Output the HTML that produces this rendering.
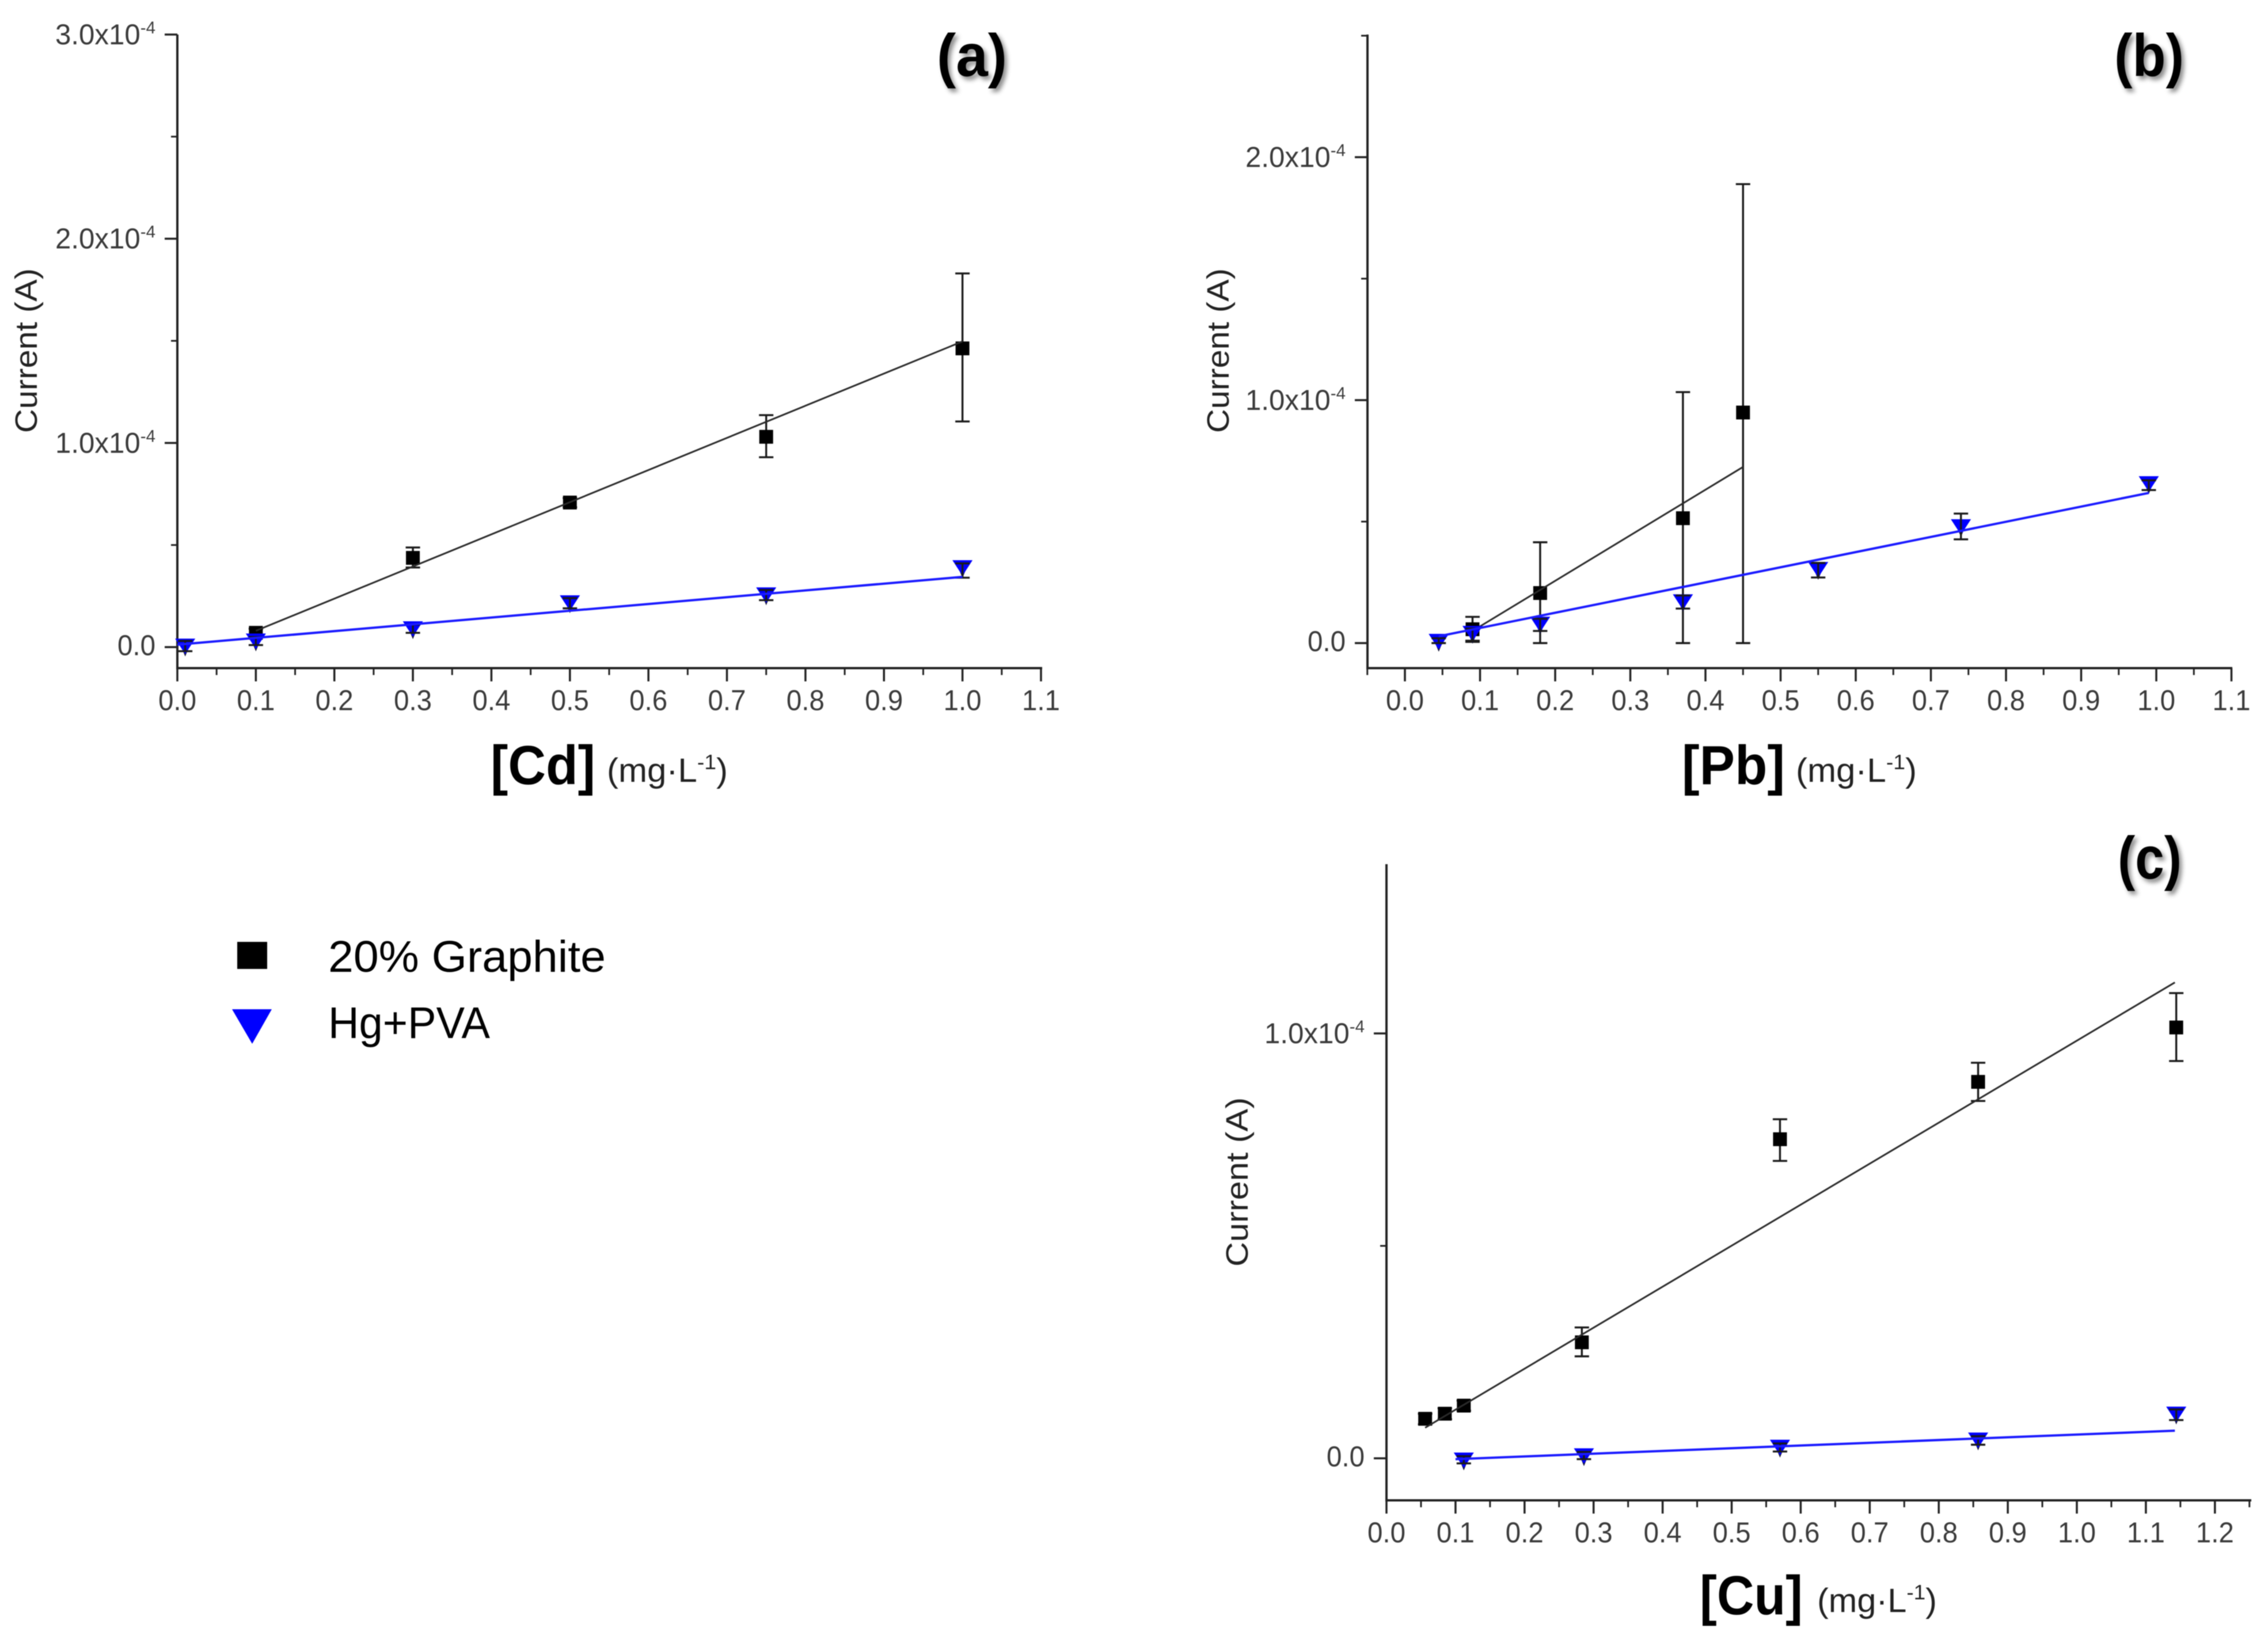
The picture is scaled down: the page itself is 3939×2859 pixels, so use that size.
<!DOCTYPE html>
<html lang="en">
<head>
<meta charset="utf-8">
<title>Calibration curves for Cd, Pb and Cu</title>
<style>
  html, body { margin: 0; padding: 0; background: #ffffff; }
  body { width: 3939px; height: 2859px; overflow: hidden; }
  svg { display: block; font-family: "Liberation Sans", Arial, sans-serif; filter: blur(0.8px); }
  .panel-letter { font-weight: 700; font-size: 104px; fill: #000; filter: drop-shadow(5px 6px 4px rgba(0,0,0,.45)); }
  .y-title { font-size: 54px; fill: #222; }
  .x-title { font-size: 96px; font-weight: 700; fill: #000; }
  .x-unit { font-size: 58px; fill: #222; }
  .legend-text { font-size: 77px; fill: #000; }
</style>
</head>
<body>
<svg id="fig" xmlns="http://www.w3.org/2000/svg" width="3939" height="2859" viewBox="0 0 3939 2859">
  <rect x="0" y="0" width="3939" height="2859" fill="#ffffff"/>

  <g id="panel-a"></g>
  <g id="panel-b"></g>
  <g id="panel-c"></g>

  <text class="panel-letter" x="1627" y="132" textLength="122" lengthAdjust="spacingAndGlyphs">(a)</text>
  <text class="panel-letter" x="3672" y="132" textLength="121" lengthAdjust="spacingAndGlyphs">(b)</text>
  <text class="panel-letter" x="3678" y="1526" textLength="111" lengthAdjust="spacingAndGlyphs">(c)</text>

  <text class="y-title" transform="translate(64,752) rotate(-90)" textLength="286" lengthAdjust="spacingAndGlyphs">Current (A)</text>
  <text class="y-title" transform="translate(2134,752) rotate(-90)" textLength="286" lengthAdjust="spacingAndGlyphs">Current (A)</text>
  <text class="y-title" transform="translate(2167,2200) rotate(-90)" textLength="294" lengthAdjust="spacingAndGlyphs">Current (A)</text>

  <text class="x-title" x="852" y="1362" textLength="182" lengthAdjust="spacingAndGlyphs">[Cd]</text>
  <text class="x-unit" x="1054" y="1358" textLength="210" lengthAdjust="spacingAndGlyphs">(mg·L<tspan dy="-22" font-size="36">-1</tspan><tspan dy="22">)</tspan></text>

  <text class="x-title" x="2921" y="1362" textLength="179" lengthAdjust="spacingAndGlyphs">[Pb]</text>
  <text class="x-unit" x="3119" y="1358" textLength="210" lengthAdjust="spacingAndGlyphs">(mg·L<tspan dy="-22" font-size="36">-1</tspan><tspan dy="22">)</tspan></text>

  <text class="x-title" x="2952" y="2804" textLength="179" lengthAdjust="spacingAndGlyphs">[Cu]</text>
  <text class="x-unit" x="3156" y="2800" textLength="208" lengthAdjust="spacingAndGlyphs">(mg·L<tspan dy="-22" font-size="36">-1</tspan><tspan dy="22">)</tspan></text>

  <g>
    <rect x="412" y="1636" width="52" height="47" fill="#000"/>
    <text class="legend-text" x="570" y="1688" textLength="482" lengthAdjust="spacingAndGlyphs">20% Graphite</text>
    <polygon points="403,1753 472,1753 438,1813" fill="#0000ff"/>
    <text class="legend-text" x="570" y="1803" textLength="281" lengthAdjust="spacingAndGlyphs">Hg+PVA</text>
  </g>
</svg>

<script>
// ---------- data, current in units of 1e-4 A ----------
const cdXLabels = ['0.0','0.1','0.2','0.3','0.4','0.5','0.6','0.7','0.8','0.9','1.0','1.1'];
const cdXMinor = [0.05,0.15,0.25,0.35,0.45,0.55,0.65,0.75,0.85,0.95,1.05];
const cdYMajor = [0,1,2,3];
const cdYMinor = [0.5,1.5,2.5];
const cdGraphiteX = [0.1,0.3,0.5,0.75,1.0];
const cdGraphiteY = [0.07,0.437,0.708,1.03,1.463];
const cdGraphiteHi = [0.09,0.488,0.73,1.136,1.83];
const cdGraphiteLo = [0.05,0.39,0.685,0.93,1.105];
const cdGraphiteFitX = [0.1,1.0];
const cdGraphiteFitY = [0.08,1.497];
const cdHgX = [0.01,0.1,0.3,0.5,0.75,1.0];
const cdHgY = [0.005,0.03,0.09,0.217,0.256,0.389];
const cdHgHi = [0.03,0.05,0.11,0.24,0.28,0.41];
const cdHgLo = [-0.02,0.01,0.07,0.19,0.23,0.34];
const cdHgFitX = [0.0,1.0];
const cdHgFitY = [0.012,0.344];

const pbXLabels = ['0.0','0.1','0.2','0.3','0.4','0.5','0.6','0.7','0.8','0.9','1.0','1.1'];
const pbXMinor = [-0.05,0.05,0.15,0.25,0.35,0.45,0.55,0.65,0.75,0.85,0.95,1.05];
const pbYMajor = [0,1,2];
const pbYMinor = [0.5,1.5,2.5];
const pbGraphiteX = [0.09,0.18,0.37,0.45];
const pbGraphiteY = [0.057,0.206,0.514,0.949];
const pbGraphiteHi = [0.108,0.415,1.033,1.889];
const pbGraphiteLo = [0.005,0,0,0];
const pbGraphiteFitX = [0.09,0.45];
const pbGraphiteFitY = [0.05,0.725];
const pbHgX = [0.045,0.09,0.18,0.37,0.55,0.74,0.99];
const pbHgY = [0.007,0.04,0.078,0.17,0.303,0.479,0.656];
const pbHgHi = [0.02,0.06,0.1,0.196,0.33,0.533,0.67];
const pbHgLo = [0,0.01,0.05,0.142,0.27,0.427,0.63];
const pbHgFitX = [0.045,0.99];
const pbHgFitY = [0.028,0.618];

const cuXLabels = ['0.0','0.1','0.2','0.3','0.4','0.5','0.6','0.7','0.8','0.9','1.0','1.1','1.2'];
const cuXMinor = [0.05,0.15,0.25,0.35,0.45,0.55,0.65,0.75,0.85,0.95,1.05,1.15,1.25];
const cuYMajor = [0,1];
const cuYMinor = [0.5];
const cuGraphiteX = [0.056,0.0845,0.112,0.283,0.57,0.857,1.144];
const cuGraphiteY = [0.093,0.105,0.124,0.273,0.751,0.886,1.014];
const cuGraphiteHi = [0.105,0.118,0.136,0.308,0.798,0.931,1.095];
const cuGraphiteLo = [0.08,0.092,0.112,0.24,0.70,0.841,0.935];
const cuGraphiteFitX = [0.056,1.142];
const cuGraphiteFitY = [0.072,1.12];
const cuHgX = [0.112,0.286,0.57,0.857,1.144];
const cuHgY = [-0.004,0.006,0.026,0.043,0.104];
const cuHgHi = [0.005,0.015,0.035,0.052,0.115];
const cuHgLo = [-0.012,-0.002,0.016,0.032,0.09];
const cuHgFitX = [0.1,1.142];
const cuHgFitY = [-0.002,0.065];

// ---------- axis geometry ----------
const layoutA = { x0: 308, xk: 1363.6, y0: 1124, yk: 354.67, left: 308, right: 1808, top: 60, bottom: 1160.5 };
const layoutB = { x0: 2440, xk: 1305, y0: 1117, yk: 422, left: 2375, right: 3875, top: 60, bottom: 1160.5 };
const layoutC = { x0: 2408, xk: 1199, y0: 2533, yk: 738, left: 2408, right: 3908, top: 1501, bottom: 2606 };

const NS = 'http://www.w3.org/2000/svg';
const AXIS_COLOR = '#222222';
const LABEL_COLOR = '#3a3a3a';

function make(parent, tag, attrs) {
  const node = document.createElementNS(NS, tag);
  for (const k in attrs) node.setAttribute(k, attrs[k]);
  parent.appendChild(node);
  return node;
}

function drawAxes(g, L, key, xLabels, xMinor, yMajor, yMinor) {
  const xs = v => L.x0 + v * L.xk;
  const ys = v => L.y0 - v * L.yk;

  const yAxis = make(g, 'line', { x1: L.left, x2: L.left, y1: L.top, y2: L.bottom + 2, stroke: AXIS_COLOR, 'stroke-width': 4 });
  
  

  const xAxis = make(g, 'line', { x1: L.left - 2, x2: L.right + 2, y1: L.bottom, y2: L.bottom, stroke: AXIS_COLOR, 'stroke-width': 4 });
  
  

  xLabels.forEach(label => {
    const v = parseFloat(label);
    const tick = make(g, 'line', { x1: xs(v), x2: xs(v), y1: L.bottom, y2: L.bottom + 23, stroke: AXIS_COLOR, 'stroke-width': 3.5 });
    
    
    const text = make(g, 'text', { x: xs(v) - 33, y: L.bottom + 73, 'font-size': 50, fill: LABEL_COLOR, textLength: 66, lengthAdjust: 'spacingAndGlyphs' });
    text.textContent = label;
    
    
  });

  xMinor.forEach(v => {
    const tick = make(g, 'line', { x1: xs(v), x2: xs(v), y1: L.bottom, y2: L.bottom + 12, stroke: AXIS_COLOR, 'stroke-width': 3 });
    
    
  });

  yMajor.forEach(v => {
    const tick = make(g, 'line', { x1: L.left - 22, x2: L.left, y1: ys(v), y2: ys(v), stroke: AXIS_COLOR, 'stroke-width': 3.5 });
    
    
    const isZero = v === 0;
    const text = make(g, 'text', {
      x: L.left - 38 - (isZero ? 66 : 174),
      y: ys(v) + (isZero ? 14 : 17),
      'font-size': 50,
      fill: LABEL_COLOR,
      textLength: isZero ? 66 : 174,
      lengthAdjust: 'spacingAndGlyphs'
    });
    if (isZero) {
      text.textContent = '0.0';
    } else {
      text.textContent = v.toFixed(1) + 'x10';
      const sup = make(text, 'tspan', { dy: -19, 'font-size': 30 });
      sup.textContent = '-4';
    }
    
    
  });

  yMinor.forEach(v => {
    const tick = make(g, 'line', { x1: L.left - 11, x2: L.left, y1: ys(v), y2: ys(v), stroke: AXIS_COLOR, 'stroke-width': 3 });
    
    
  });
}

function drawErrors(g, L, key, series, xv, hi, lo) {
  const xs = v => L.x0 + v * L.xk;
  const ys = v => L.y0 - v * L.yk;
  xv.forEach((v, i) => {
    const e = make(g, 'path', {
      d: 'M' + (xs(v) - 12.5) + ' ' + ys(hi[i]) + 'H' + (xs(v) + 12.5) +
         'M' + xs(v) + ' ' + ys(hi[i]) + 'V' + ys(lo[i]) +
         'M' + (xs(v) - 12.5) + ' ' + ys(lo[i]) + 'H' + (xs(v) + 12.5),
      fill: 'none', stroke: '#1a1a1a', 'stroke-width': 3.4
    });
    
    
  });
}

function drawFit(g, L, key, series, fx, fy, color, width) {
  const xs = v => L.x0 + v * L.xk;
  const ys = v => L.y0 - v * L.yk;
  const line = make(g, 'line', { x1: xs(fx[0]), y1: ys(fy[0]), x2: xs(fx[1]), y2: ys(fy[1]), stroke: color, 'stroke-width': width });
  
  
}

function drawSquares(g, L, key, xv, yv) {
  const xs = v => L.x0 + v * L.xk;
  const ys = v => L.y0 - v * L.yk;
  xv.forEach((v, i) => {
    const m = make(g, 'rect', { x: xs(v) - 12, y: ys(yv[i]) - 12, width: 24, height: 24, fill: '#000' });
    
    
  });
}

function drawTriangles(g, L, key, xv, yv) {
  const xs = v => L.x0 + v * L.xk;
  const ys = v => L.y0 - v * L.yk;
  xv.forEach((v, i) => {
    const cx = xs(v), cy = ys(yv[i]);
    const under = make(g, 'polygon', {
      points: (cx - 9) + ',' + (cy - 4) + ' ' + (cx + 9) + ',' + (cy - 4) + ' ' + cx + ',' + (cy + 18),
      fill: '#101030'
    });
    
    
    const m = make(g, 'polygon', {
      points: (cx - 17.5) + ',' + (cy - 13) + ' ' + (cx + 17.5) + ',' + (cy - 13) + ' ' + cx + ',' + (cy + 14),
      fill: '#0000ff'
    });
    
    
  });
}

function drawPanel(id, L, key, xLabels, xMinor, yMajor, yMinor,
                   gx, gy, gHi, gLo, gfx, gfy, hx, hy, hHi, hLo, hfx, hfy) {
  const g = document.getElementById(id);
  drawAxes(g, L, key, xLabels, xMinor, yMajor, yMinor);
  drawErrors(g, L, key, 'graphite', gx, gHi, gLo);
  drawSquares(g, L, key, gx, gy);
  drawFit(g, L, key, 'graphite', gfx, gfy, '#2a2a2a', 3);
  drawTriangles(g, L, key, hx, hy);
  drawErrors(g, L, key, 'hg-pva', hx, hHi, hLo);
  drawFit(g, L, key, 'hg-pva', hfx, hfy, '#1a1aff', 4);
}

drawPanel('panel-a', layoutA, 'a', cdXLabels, cdXMinor, cdYMajor, cdYMinor,
  cdGraphiteX, cdGraphiteY, cdGraphiteHi, cdGraphiteLo, cdGraphiteFitX, cdGraphiteFitY,
  cdHgX, cdHgY, cdHgHi, cdHgLo, cdHgFitX, cdHgFitY);
drawPanel('panel-b', layoutB, 'b', pbXLabels, pbXMinor, pbYMajor, pbYMinor,
  pbGraphiteX, pbGraphiteY, pbGraphiteHi, pbGraphiteLo, pbGraphiteFitX, pbGraphiteFitY,
  pbHgX, pbHgY, pbHgHi, pbHgLo, pbHgFitX, pbHgFitY);
drawPanel('panel-c', layoutC, 'c', cuXLabels, cuXMinor, cuYMajor, cuYMinor,
  cuGraphiteX, cuGraphiteY, cuGraphiteHi, cuGraphiteLo, cuGraphiteFitX, cuGraphiteFitY,
  cuHgX, cuHgY, cuHgHi, cuHgLo, cuHgFitX, cuHgFitY);
</script>
</body>
</html>
